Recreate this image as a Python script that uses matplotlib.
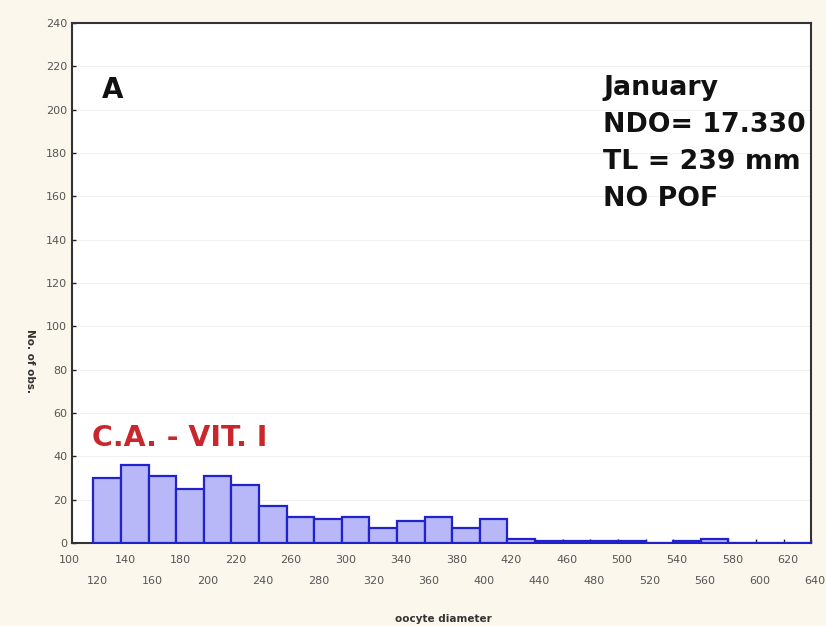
import matplotlib
matplotlib.use("Agg")
import matplotlib.pyplot as plt
import matplotlib.transforms as mtransforms

bin_edges = list(range(120, 660, 20))
counts = [30, 36, 31, 25, 31, 27, 17, 12, 11, 12, 7, 10, 12, 7, 11,
          2, 1, 1, 1, 1, 0, 1, 2, 0, 0, 0]
x_ticks = list(range(100, 660, 20))
y_ticks = list(range(0, 260, 20))

fig = plt.figure(figsize=(8.26, 6.26), dpi=100)
fig.patch.set_facecolor("#FBF7EC")
ax = fig.add_axes([0.0872, 0.1326, 0.8948, 0.8304])
ax.set_facecolor("white")

lefts = bin_edges[:-1]
ax.bar(lefts, counts, width=20, align="edge", color="#B8B8F8",
       edgecolor="#2222CC", linewidth=1.6, zorder=3)

ax.set_xlim(104.5, 640)
ax.set_ylim(0, 240)
ax.set_yticks(y_ticks)
ax.set_yticklabels([str(v) for v in y_ticks])
vis_ticks = [v for v in x_ticks if v >= 104.5]
ax.set_xticks(vis_ticks)
ax.set_xticklabels([str(v) for v in vis_ticks])
ax.tick_params(axis="both", direction="in", length=3, width=1.0,
               labelsize=8, labelcolor="#555555", color="#222222")
ax.tick_params(axis="x", pad=9)
for v, lab in zip(vis_ticks, ax.get_xticklabels()):
    dy = 0 if x_ticks.index(v) % 2 == 0 else -21
    off = mtransforms.ScaledTranslation(4 / 100, dy / 100, fig.dpi_scale_trans)
    lab.set_transform(lab.get_transform() + off)
# first label sits just left of the axis start
trans = mtransforms.blended_transform_factory(ax.transData, ax.transAxes)
off0 = mtransforms.ScaledTranslation(4 / 100, 0, fig.dpi_scale_trans)
ax.text(x_ticks[0], -17 / 520, str(x_ticks[0]), transform=trans + off0,
        ha="center", va="center", fontsize=8, color="#555555", clip_on=False)

ax.grid(axis="y", color="#EEEEEE", linewidth=0.6, zorder=0)
for s in ax.spines.values():
    s.set_linewidth(1.5)
    s.set_color("#333333")

ax.set_xlabel("oocyte diameter", fontsize=7.5, fontweight="bold", color="#333333")
ax.xaxis.set_label_coords(0.502, -0.137)
ax.set_ylabel("No. of obs.", fontsize=7.5, fontweight="bold", color="#333333",
              rotation=270)
ax.yaxis.set_label_coords(-0.064, 0.35)

fnt = dict(family=["DejaVu Sans"], fontweight="bold")
ax.text(0.040, 0.871, "A", transform=ax.transAxes, fontsize=20,
        color="#111111", va="center", ha="left", **fnt)
ax.text(0.7185, 0.90, "January\nNDO= 17.330\nTL = 239 mm\nNO POF",
        transform=ax.transAxes, fontsize=19.3, color="#111111",
        va="top", ha="left", linespacing=1.55, **fnt)
ax.text(0.0266, 0.202, "C.A. - VIT. I", transform=ax.transAxes, fontsize=20.4,
        color="#C8282D", va="center", ha="left", **fnt)

fig.savefig("out.png", dpi=100, facecolor=fig.get_facecolor())
